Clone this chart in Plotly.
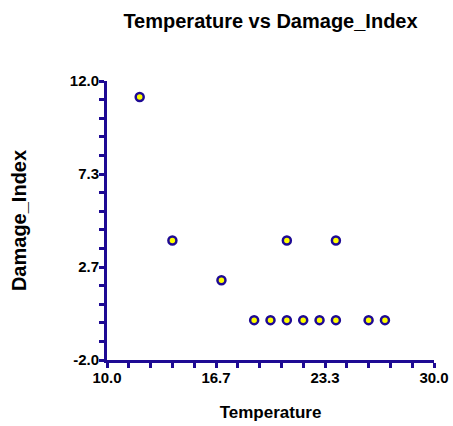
import plotly.graph_objects as go

temperature = [12, 14, 17, 19, 20, 21, 21, 22, 23, 24, 24, 26, 27]
damage_index = [11.2, 4, 2, 0, 0, 4, 0, 0, 0, 4, 0, 0, 0]

x_tickvals = [10.0, 50 / 3, 70 / 3, 30.0]
x_ticktext = ["10.0", "16.7", "23.3", "30.0"]
y_tickvals = [-2.0, 8 / 3, 22 / 3, 12.0]
y_ticktext = ["-2.0", "2.7", "7.3", "12.0"]

AX = "#1e0a94"
FONT = "Liberation Sans, Arial, sans-serif"

fig = go.Figure(
    go.Scatter(
        x=temperature,
        y=damage_index,
        mode="markers",
        marker=dict(size=8, color="#ffff00", line=dict(color=AX, width=2.5)),
        showlegend=False,
    )
)

axis_common = dict(
    showgrid=False,
    zeroline=False,
    showline=True,
    linecolor=AX,
    linewidth=3,
    ticks="outside",
    ticklen=5,
    tickwidth=3,
    tickcolor=AX,
    automargin=False,
    ticklabelstandoff=-3,
    tickfont=dict(family=FONT, size=15, color="black", weight="bold"),
)

fig.update_layout(
    width=453,
    height=426,
    margin=dict(l=107, r=19, t=81, b=66),
    paper_bgcolor="white",
    plot_bgcolor="white",
    title=dict(
        text="Temperature vs Damage_Index",
        font=dict(family=FONT, size=20, color="black", weight="bold"),
        x=(107 + 434) / 2 / 453,
        xanchor="center",
        y=1 - 21 / 426,
        yanchor="middle",
    ),
    xaxis=dict(
        range=[10, 30],
        tickmode="array",
        tickvals=x_tickvals,
        ticktext=x_ticktext,
        minor=dict(tick0=10, dtick=20 / 15, ticks="outside", ticklen=5, tickwidth=3, tickcolor=AX),
        title=dict(text="Temperature", font=dict(family=FONT, size=17, color="black", weight="bold"), standoff=22),
        **axis_common,
    ),
    yaxis=dict(
        range=[-2, 12],
        tickmode="array",
        tickvals=y_tickvals,
        ticktext=y_ticktext,
        minor=dict(tick0=-2, dtick=14 / 15, ticks="outside", ticklen=5, tickwidth=3, tickcolor=AX),
        title=dict(text="Damage_Index", font=dict(family=FONT, size=20, color="black", weight="bold"), standoff=38),
        **axis_common,
    ),
)

fig.write_html("out.html")
